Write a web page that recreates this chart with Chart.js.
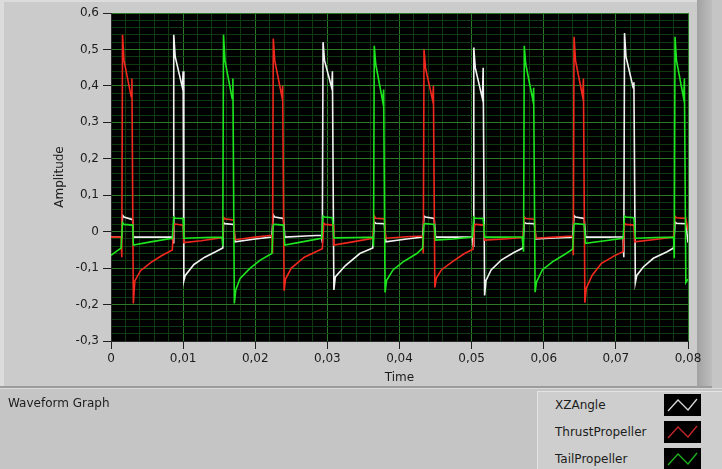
<!DOCTYPE html>
<html>
<head>
<meta charset="utf-8">
<title>Waveform Graph</title>
<script src="https://cdn.jsdelivr.net/npm/chart.js@4.4.1/dist/chart.umd.min.js"></script>
<style>
  html, body { margin: 0; padding: 0; background: #c5c5c5; }
  #wrap { position: relative; width: 722px; height: 469px; overflow: hidden; font-family: "DejaVu Sans", sans-serif; }
  #graph { position: absolute; left: 0; top: 0; }
  #caption { position: absolute; left: 8px; top: 396px; font-size: 12px; color: #1c1c1c; }
  #legend { position: absolute; left: 537px; top: 391px; width: 185px; height: 78px; background: #cecece;
            border-top: 1px solid #e4e4e4; border-left: 1px solid #e4e4e4; }
  .row { position: absolute; left: 0; width: 185px; height: 27px; }
  .row span { position: absolute; left: 17px; top: 6px; font-size: 12px; color: #1c1c1c; }
  .row svg { position: absolute; left: 126px; top: 2px; }
</style>
</head>
<body>
<div id="wrap">
  <canvas id="graph" width="722" height="469"></canvas>
  <div id="caption">Waveform Graph</div>
  <div id="legend"></div>
</div>
<script>
// time (s), amplitude
const xzAngle = [
  [0,-0.015],[0.0015,-0.015],[0.0016,0.045],[0.0018,0.04],[0.0030,0.033],[0.0031,-0.015],[0.0060,-0.015],
  [0.0085,-0.015],[0.0086,-0.03],[0.0087,0.54],[0.0089,0.48],[0.0099,0.395],[0.0100,0.44],[0.0101,-0.135],
  [0.0103,-0.12],[0.0115,-0.09],[0.0130,-0.07],[0.0145,-0.055],[0.0155,-0.045],[0.0156,0.025],[0.0158,0.022],
  [0.0170,0.02],[0.0172,-0.028],[0.0200,-0.02],[0.0223,-0.015],[0.0225,0.046],[0.0227,0.04],[0.0239,0.036],
  [0.0241,-0.015],[0.0270,-0.012],[0.0292,-0.01],[0.0293,-0.03],[0.0294,0.52],[0.0296,0.47],[0.0306,0.395],
  [0.0307,0.44],[0.0309,-0.16],[0.0311,-0.124],[0.0325,-0.093],[0.0345,-0.06],[0.0363,-0.045],[0.0365,0.027],
  [0.0367,0.023],[0.0379,0.022],[0.0381,-0.028],[0.0410,-0.02],[0.0432,-0.015],[0.0434,0.043],[0.0436,0.04],
  [0.0448,0.036],[0.0450,-0.015],[0.0480,-0.015],[0.0501,-0.014],[0.0502,-0.04],[0.0503,0.505],[0.0505,0.45],
  [0.0515,0.365],[0.0516,0.45],[0.0518,-0.175],[0.0520,-0.134],[0.0527,-0.105],[0.0541,-0.078],[0.0558,-0.058],
  [0.0571,-0.045],[0.0573,0.026],[0.0575,0.023],[0.0587,0.022],[0.0589,-0.02],[0.0615,-0.017],[0.0640,-0.015],
  [0.0642,0.044],[0.0644,0.04],[0.0656,0.036],[0.0658,-0.015],[0.0690,-0.015],[0.0710,-0.014],[0.0711,-0.07],
  [0.0712,0.545],[0.0714,0.48],[0.0724,0.395],[0.0725,0.41],[0.0727,-0.14],[0.0729,-0.12],[0.0738,-0.097],
  [0.0752,-0.073],[0.0771,-0.055],[0.0780,-0.045],[0.0782,0.027],[0.0784,0.023],[0.0797,0.022],[0.0800,-0.03]
];
const thrustPropeller = [
  [0,-0.015],[0.0014,-0.015],[0.0015,-0.07],[0.0016,0.54],[0.0018,0.47],[0.0028,0.37],[0.0029,0.42],
  [0.0031,-0.197],[0.0033,-0.135],[0.0041,-0.107],[0.0055,-0.085],[0.0070,-0.066],[0.0085,-0.05],[0.0087,0.016],
  [0.0089,0.021],[0.0100,0.018],[0.0101,-0.03],[0.0125,-0.025],[0.0155,-0.016],[0.0156,0.04],[0.0158,0.035],
  [0.0170,0.032],[0.0172,-0.022],[0.0200,-0.015],[0.0223,-0.01],[0.0224,-0.06],[0.0225,0.53],[0.0227,0.47],
  [0.0237,0.37],[0.0238,0.40],[0.0240,-0.162],[0.0242,-0.13],[0.0250,-0.1],[0.0268,-0.07],[0.0293,-0.047],
  [0.0295,0.023],[0.0297,0.02],[0.0308,0.018],[0.0309,-0.037],[0.0335,-0.028],[0.0363,-0.018],[0.0365,0.043],
  [0.0367,0.037],[0.0379,0.035],[0.0381,-0.018],[0.0410,-0.014],[0.0432,-0.012],[0.0433,-0.06],[0.0434,0.50],
  [0.0436,0.45],[0.0446,0.36],[0.0447,0.40],[0.0449,-0.153],[0.0451,-0.128],[0.0458,-0.105],[0.0473,-0.083],
  [0.0490,-0.06],[0.0502,-0.048],[0.0504,0.018],[0.0506,0.02],[0.0517,0.018],[0.0518,-0.023],[0.0545,-0.02],
  [0.0571,-0.016],[0.0573,0.04],[0.0575,0.036],[0.0587,0.034],[0.0589,-0.018],[0.0615,-0.015],[0.0640,-0.012],
  [0.0641,-0.065],[0.0642,0.535],[0.0644,0.47],[0.0654,0.37],[0.0655,0.42],[0.0657,-0.195],[0.0659,-0.155],
  [0.0667,-0.12],[0.0680,-0.087],[0.0699,-0.065],[0.0710,-0.055],[0.0712,0.023],[0.0714,0.02],[0.0725,0.018],
  [0.0726,-0.028],[0.0760,-0.02],[0.0780,-0.015],[0.0782,0.042],[0.0784,0.038],[0.0797,0.036],[0.0800,0.004]
];
const tailPropeller = [
  [0,-0.065],[0.0007,-0.055],[0.0014,-0.045],[0.0016,0.025],[0.0018,0.02],[0.0030,0.018],[0.0031,-0.037],
  [0.0055,-0.028],[0.0085,-0.018],[0.0087,0.04],[0.0089,0.037],[0.0100,0.036],[0.0101,-0.018],[0.0130,-0.016],
  [0.0154,-0.015],[0.0155,-0.04],[0.0156,0.54],[0.0158,0.47],[0.0168,0.365],[0.0169,0.42],[0.0171,-0.197],
  [0.0173,-0.16],[0.0179,-0.128],[0.0193,-0.1],[0.0207,-0.078],[0.0223,-0.06],[0.0225,0.018],[0.0227,0.02],
  [0.0239,0.018],[0.0241,-0.037],[0.0265,-0.028],[0.0292,-0.018],[0.0294,0.043],[0.0296,0.04],[0.0307,0.038],
  [0.0309,-0.017],[0.0340,-0.016],[0.0363,-0.015],[0.0364,-0.04],[0.0365,0.51],[0.0367,0.46],[0.0377,0.355],
  [0.0378,0.39],[0.0380,-0.167],[0.0382,-0.134],[0.0391,-0.105],[0.0405,-0.083],[0.0424,-0.06],[0.0432,-0.045],
  [0.0434,0.02],[0.0436,0.022],[0.0448,0.02],[0.0450,-0.023],[0.0475,-0.02],[0.0501,-0.015],[0.0503,0.04],
  [0.0505,0.037],[0.0516,0.036],[0.0518,-0.015],[0.0545,-0.015],[0.0570,-0.014],[0.0572,-0.055],[0.0573,0.51],
  [0.0575,0.46],[0.0585,0.36],[0.0586,0.395],[0.0588,-0.166],[0.0590,-0.138],[0.0598,-0.105],[0.0612,-0.083],
  [0.0631,-0.06],[0.0640,-0.048],[0.0642,0.02],[0.0644,0.022],[0.0656,0.02],[0.0658,-0.032],[0.0685,-0.025],
  [0.0710,-0.018],[0.0712,0.043],[0.0714,0.04],[0.0725,0.038],[0.0727,-0.018],[0.0755,-0.016],[0.0780,-0.015],
  [0.0781,-0.073],[0.0782,0.535],[0.0784,0.47],[0.0794,0.365],[0.0795,0.42],[0.0797,-0.14],[0.0800,-0.13]
];

const seriesNames = ['XZAngle', 'ThrustPropeller', 'TailPropeller'];
const seriesColors = ['#f2f2f2', '#f0281e', '#1ee61e'];
const swatchColors = ['#d8d8d8', '#c82828', '#1eb41e'];
const timeRange = [0, 0.08];
const ampRange = [-0.3, 0.6];

const FONT = { family: 'DejaVu Sans', size: 12 };
const isMajor = (v, n) => Math.abs(v * n - Math.round(v * n)) < 1e-6;
const comma = (v, n) => String(Math.round(v * n) / n).replace('.', ',');

// gray LabVIEW panel + black plot area
const panel = {
  id: 'panel',
  beforeDraw(chart) {
    const c = chart.ctx, a = chart.chartArea;
    c.save();
    c.fillStyle = '#c5c5c5';
    c.fillRect(0, 0, 722, 469);
    c.fillStyle = '#cbcbcb';
    c.fillRect(4, 0, 693, 386);
    c.fillStyle = '#dcdcdc';
    c.fillRect(0, 0, 4, 386);
    c.fillRect(0, 0, 697, 2);
    const g = c.createLinearGradient(697, 0, 712, 0);
    g.addColorStop(0, '#a2a2a2');
    g.addColorStop(1, '#bdbdbd');
    c.fillStyle = g;
    c.fillRect(697, 0, 15, 388);
    c.fillStyle = '#9c9c9c';
    c.fillRect(0, 386, 712, 2);
    c.fillStyle = '#dadada';
    c.fillRect(0, 388, 722, 1);
    c.fillStyle = '#000';
    c.fillRect(a.left, a.top, a.right - a.left, a.bottom - a.top);
    c.restore();
  }
};

const gridColor = ctx => (ctx.tick && isMajor(ctx.tick.value, ctx.scale.axis === 'x' ? 100 : 10)) ? '#2a7a2a' : '#0f3a0f';
const tickColor = ctx => (ctx.tick && isMajor(ctx.tick.value, ctx.scale.axis === 'x' ? 100 : 10)) ? '#202020' : 'rgba(0,0,0,0)';

const datasets = [xzAngle, thrustPropeller, tailPropeller].map((s, i) => ({
  label: seriesNames[i],
  data: s.map(p => ({ x: p[0], y: p[1] })),
  borderColor: seriesColors[i],
  borderWidth: 1.6,
  pointRadius: 0,
  tension: 0,
  order: 3 - i
}));

new Chart(document.getElementById('graph'), {
  type: 'line',
  data: { datasets: datasets },
  plugins: [panel],
  options: {
    responsive: false,
    animation: false,
    devicePixelRatio: 1,
    layout: { padding: { left: 0, right: 34, top: 13, bottom: 84 } },
    plugins: { legend: { display: false }, tooltip: { enabled: false } },
    scales: {
      x: {
        type: 'linear', min: timeRange[0], max: timeRange[1],
        afterFit: s => { s.height = 44; },
        ticks: { stepSize: 0.002, autoSkip: false, maxRotation: 0, padding: 3, color: '#1c1c1c', font: FONT,
                 callback: v => isMajor(v, 100) ? comma(v, 100) : '' },
        grid: { color: gridColor, tickColor: tickColor, tickLength: 8 },
        border: { color: '#2a2a2a' },
        title: { display: true, text: 'Time', color: '#1c1c1c', font: FONT, padding: { top: 0, bottom: 0 } }
      },
      y: {
        type: 'linear', min: ampRange[0], max: ampRange[1],
        afterFit: s => { s.width = 111; },
        ticks: { stepSize: 0.02, autoSkip: false, maxTicksLimit: 100, padding: 4, color: '#1c1c1c', font: FONT,
                 callback: v => isMajor(v, 10) ? comma(v, 10) : '' },
        grid: { color: gridColor, tickColor: tickColor, tickLength: 8 },
        border: { color: '#2a2a2a' },
        title: { display: true, text: 'Amplitude', color: '#1c1c1c', font: FONT, padding: { top: 53, bottom: 0 } }
      }
    }
  }
});

// legend rows: name + small black swatch with a zigzag in the plot colour
const legend = document.getElementById('legend');
seriesNames.forEach((name, i) => {
  const row = document.createElement('div');
  row.className = 'row';
  row.style.top = (i * 27) + 'px';
  row.innerHTML = '<span>' + name + '</span>' +
    '<svg width="37" height="22"><rect x="0" y="0" width="37" height="22" fill="#000"/>' +
    '<polyline points="4,17 14,6 24,16 33,5" fill="none" stroke="' + swatchColors[i] + '" stroke-width="1.3"/></svg>';
  legend.appendChild(row);
});
</script>
</body>
</html>
